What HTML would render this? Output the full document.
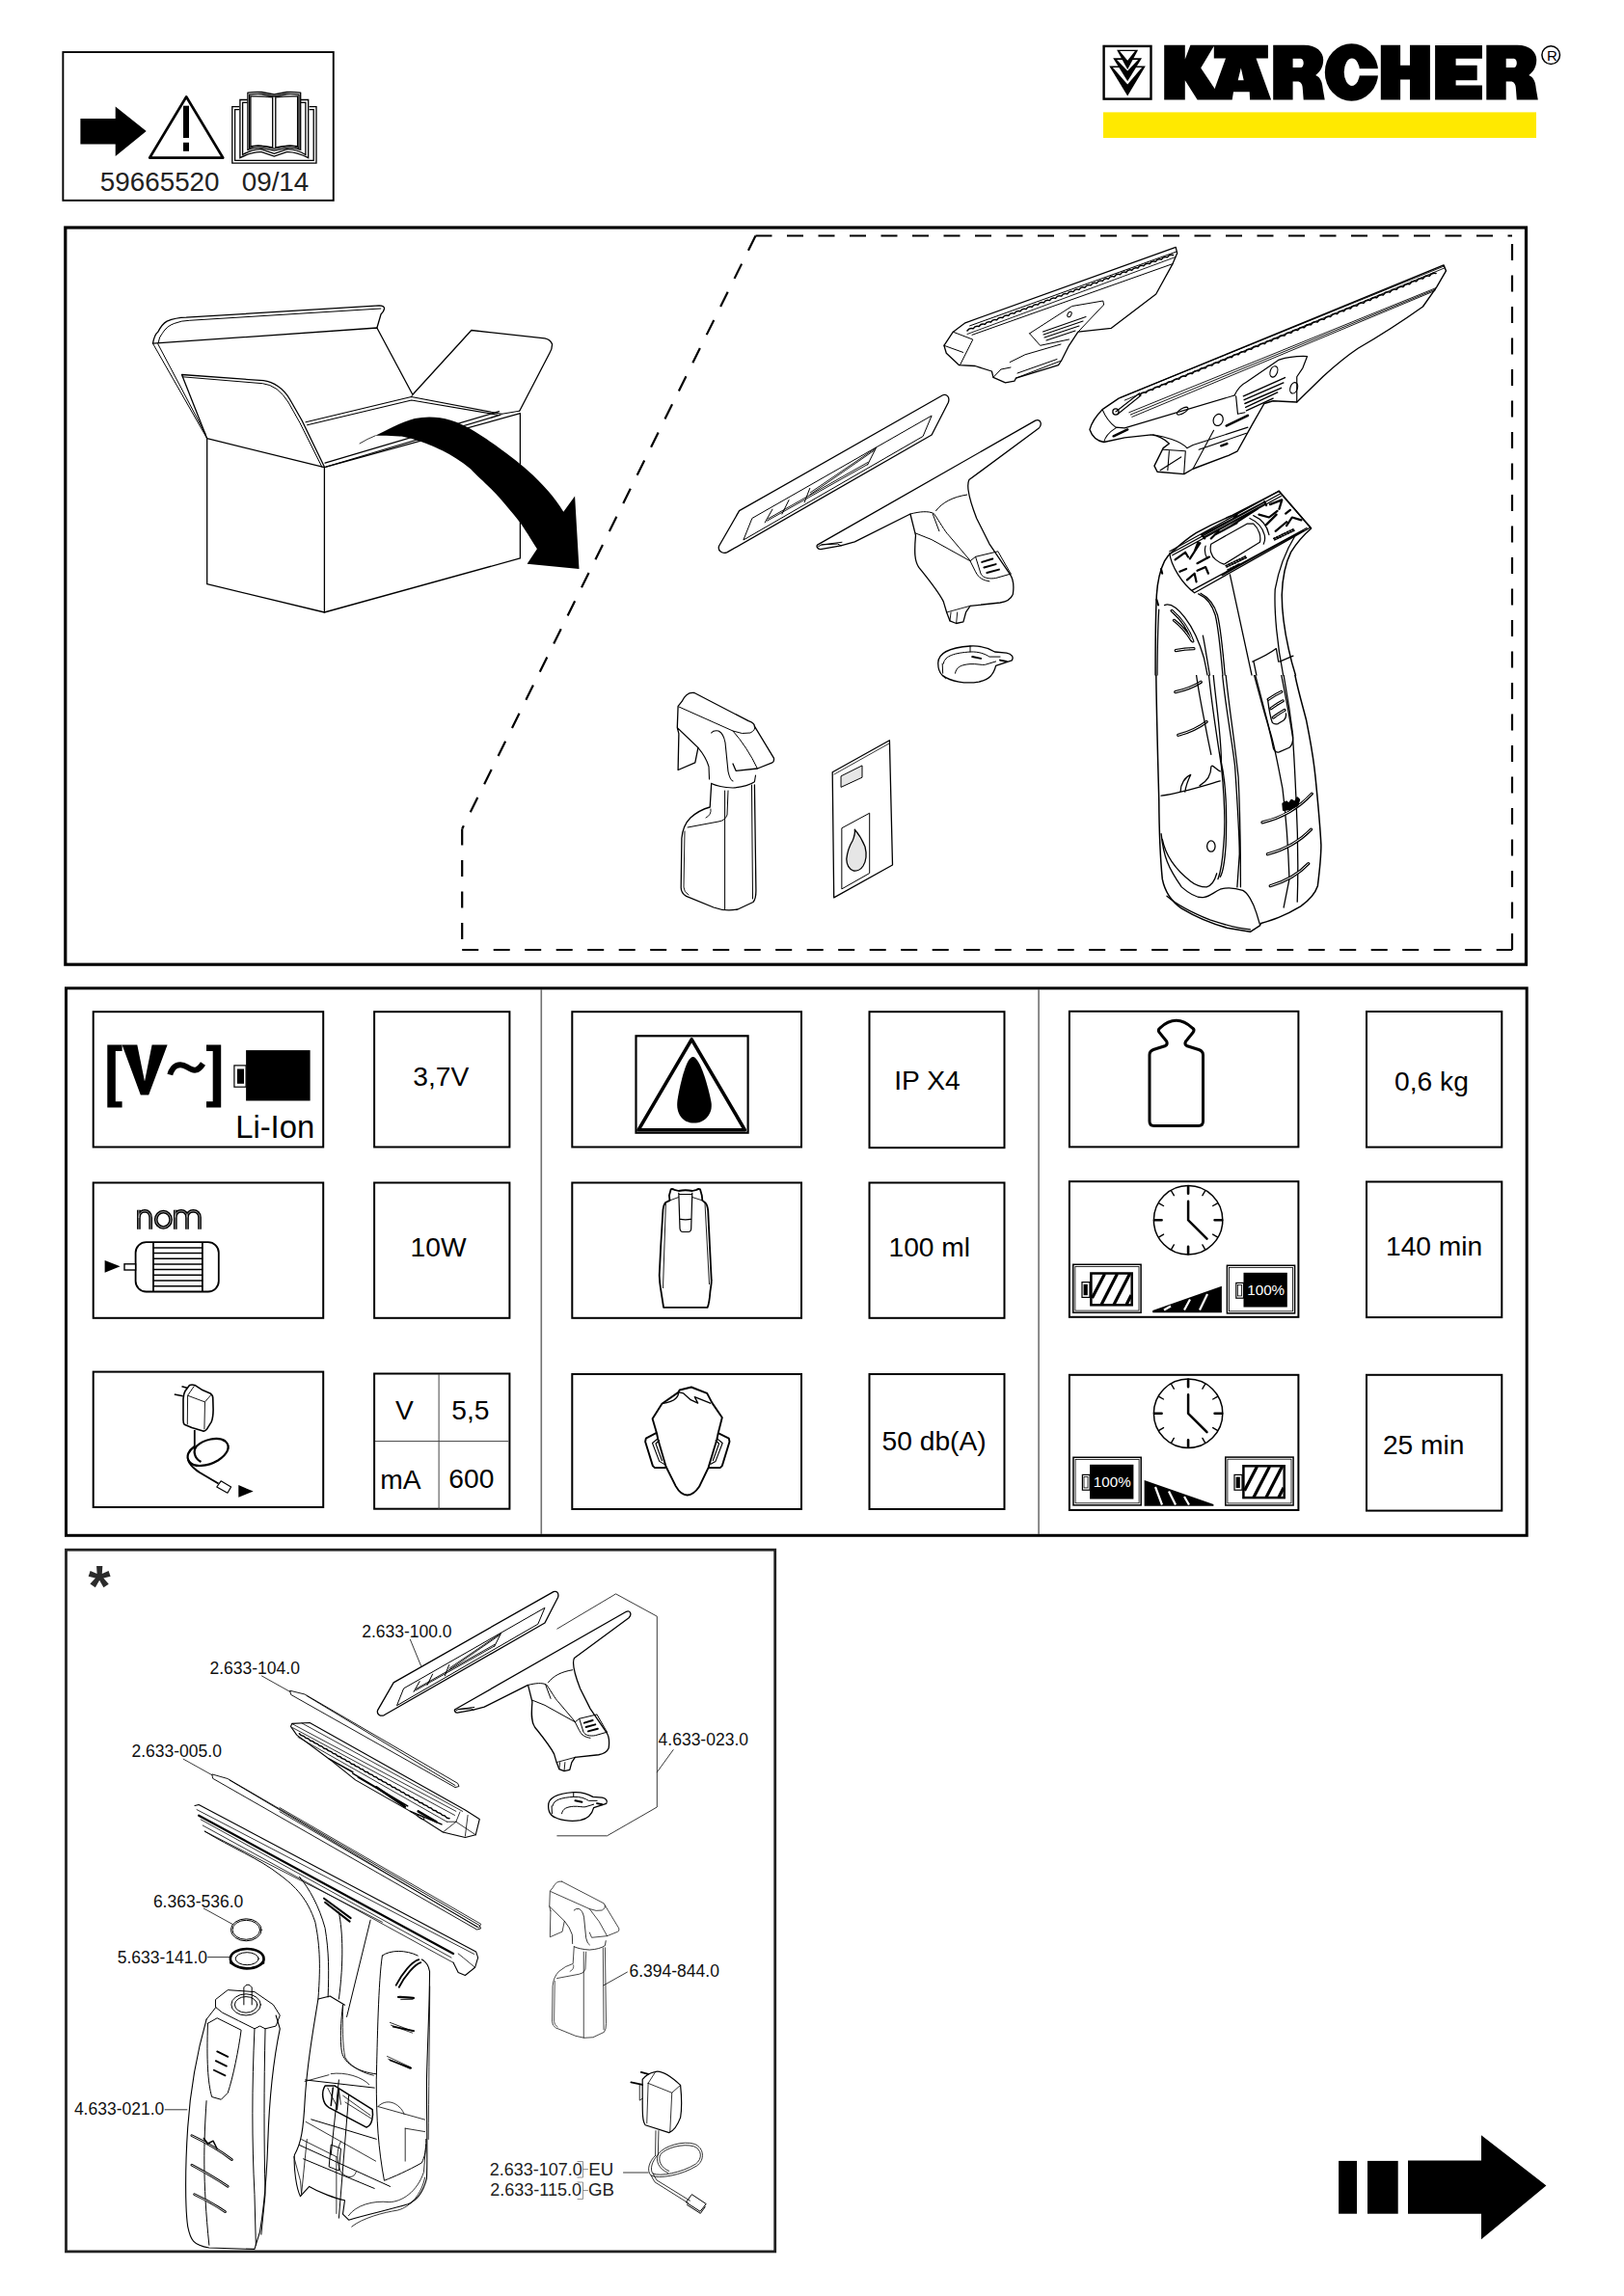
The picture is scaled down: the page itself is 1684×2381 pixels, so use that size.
<!DOCTYPE html>
<html><head><meta charset="utf-8"><title>Kärcher WV</title>
<style>
html,body{margin:0;padding:0;background:#fff;}
body{width:1684px;height:2381px;position:relative;overflow:hidden;font-family:"Liberation Sans",sans-serif;}
svg{position:absolute;left:0;top:0;}
text{font-family:"Liberation Sans",sans-serif;}
</style></head>
<body>
<svg width="1684" height="2381" viewBox="0 0 1684 2381">
<!-- HEADER LEFT -->
<g id="hdr">
<rect x="65.35" y="54.05" width="280.4" height="153.8" fill="none" stroke="#000" stroke-width="1.9"/>
<polygon points="83.4,123 119.7,123 119.7,110.6 151.7,136 119.7,162 119.7,149.4 83.4,149.4" fill="#000"/>
<polygon points="193.2,100.4 231.2,163.6 155.2,163.6" fill="none" stroke="#000" stroke-width="2.8" stroke-linejoin="round"/>
<rect x="190" y="109.7" width="6" height="33.3" fill="#000"/>
<rect x="190" y="147.8" width="6" height="9" fill="#000"/>
<g fill="none" stroke="#000" stroke-width="1.3">
<path d="M248.2,110.6 H240.8 V169.1 H328.0 V110.6 H320.6"/>
<path d="M248.2,113.7 H243.6 V166.4 H325.2 V113.7 H320.6"/>
<path d="M256.6,103.5 H248.9 V163.6 Q262,157 271.3,157.7 L284.3,162 L297.2,157.7 Q306,157 319.7,163.6 V103.5 H312"/>
<path d="M256.6,106.3 H251.6 V160.5 Q262,154.5 271.3,155 L284.3,159.3 L297.2,155 Q307,154.5 316.9,160.5 V106.3 H312"/>
<path d="M256.9,155.3 V96.2 Q264,95 271.3,95.5 L284.3,98 L297.2,95.5 Q304,95 311.7,96.2 V155.3 Q304,152.5 297.2,153.4 L284.3,156.2 L271.3,153.4 Q264,152.5 256.9,155.3Z"/>
<path d="M258.6,153.3 V98.2 Q264,97 271.3,97.5 L284.3,100 L297.2,97.5 Q304,97 310,98.2 V153.3 Q304,150.5 297.2,151.4 L284.3,154.2 L271.3,151.4 Q264,150.5 258.6,153.3Z"/>
<path d="M259.9,99.9 Q272,99.5 282.7,100.8 V152.8 Q272,150.5 259.9,151.6Z"/>
<path d="M285.8,100.8 Q297,99.5 308.6,99.9 V151.6 Q297,150.5 285.8,152.8Z"/>
</g>
<text x="165.7" y="198.4" font-size="27.8" text-anchor="middle" fill="#222">59665520</text>
<text x="285.5" y="198.4" font-size="27.8" text-anchor="middle" fill="#222">09/14</text>
</g>

<!-- LOGO -->
<g id="logo">
<rect x="1144.6" y="47.9" width="48.9" height="54.7" fill="none" stroke="#000" stroke-width="2.4"/>
<polygon points="1150.3,68.4 1187.8,68.4 1169.2,99.4" fill="#000"/><polygon points="1153.9,69.9 1184.1,69.9 1169.2,87.6" fill="#fff"/>
<polygon points="1154.2,60.3 1184,60.3 1169.2,84.3" fill="#000"/><polygon points="1158.1,62.1 1180.1,62.1 1169.2,73.6" fill="#fff"/>
<polygon points="1158.1,51.8 1180.1,51.8 1169.2,72.1" fill="#000"/><polygon points="1161.1,53.1 1176.9,53.1 1169.2,62.8" fill="#fff"/>
<path fill="#000" fill-rule="evenodd" d="M1207.2,46.8 H1320.1 V103.6 H1207.2 Z M1228.8,46.8 L1234.4,46.8 L1228.8,61.6 Z M1245.2,70.4 L1258.8,47.8 L1258.8,60.4 L1271,60.4 L1259.6,92 Z M1228.8,103.6 L1228.8,83.2 L1241.6,103.6 Z M1277.7,103.6 L1279,95.2 L1295.7,95.2 L1296.1,103.6 Z M1286.8,70.4 L1283.7,83.2 L1289.7,83.2 Z M1314.9,46.8 L1320.1,46.8 L1320.1,103.6 L1318.1,103.6 L1302.5,60.4 L1314.9,60.4 Z"/>
<path fill="#000" fill-rule="evenodd" d="M1320.2,46.8 H1352.2 C1365.2,46.8 1372.2,54 1372.2,62 C1372.2,70 1368.2,75 1364.2,78 C1369.2,80 1371.2,85 1371.7,92 L1373.7,103.6 H1351.7 L1350.8,92 C1350.7,87 1348.7,84.5 1345.2,84.5 H1340.6000000000001 V103.6 H1320.2 Z M1340.6000000000001,60.8 H1348.7 C1352.7,60.8 1352.7,70.1 1348.7,70.1 H1340.6000000000001 Z"/>
<ellipse cx="1401.5" cy="75" rx="27.7" ry="29.8" fill="#000"/>
<ellipse cx="1401.9" cy="74.8" rx="8.2" ry="14.2" fill="#fff"/>
<rect x="1402" y="71.2" width="29" height="7.2" fill="#fff"/>
<path fill="#000" d="M1431.8,46.8 H1452.1 V67.7 H1462 V46.8 H1482.9 V103.4 H1462 V82.5 H1452.1 V103.4 H1431.8 Z"/>
<path fill="#000" d="M1488.1,47 H1536.9 V60.7 H1509.6 V67.7 H1531.7 V83.2 H1509.6 V88.4 H1536.9 V103.6 H1488.1 Z"/>
<path fill="#000" fill-rule="evenodd" d="M1541.3,46.8 H1573.3 C1586.3,46.8 1593.3,54 1593.3,62 C1593.3,70 1589.3,75 1585.3,78 C1590.3,80 1592.3,85 1592.8,92 L1594.8,103.6 H1572.8 L1571.8999999999999,92 C1571.8,87 1569.8,84.5 1566.3,84.5 H1561.7 V103.6 H1541.3 Z M1561.7,60.8 H1569.8 C1573.8,60.8 1573.8,70.1 1569.8,70.1 H1561.7 Z"/>
<circle cx="1608.2" cy="57.1" r="9.3" fill="none" stroke="#000" stroke-width="1.5"/>
<text x="1609.4" y="62.8" font-size="15" text-anchor="middle" fill="#000">R</text>
<rect x="1144" y="116.4" width="449" height="26.6" fill="#ffe900"/>
</g>

<!-- BOX 1 -->
<rect x="67.8" y="236" width="1514.7" height="764.2" fill="none" stroke="#000" stroke-width="3.2"/>
<g fill="none" stroke="#000" stroke-width="2.2" stroke-dasharray="17 15.5">
<line x1="783.5" y1="244.5" x2="479.2" y2="859.6"/>
<line x1="479.2" y1="859.6" x2="479.2" y2="985"/>
<line x1="479.2" y1="985" x2="1568" y2="985"/>
<line x1="1568" y1="985" x2="1568" y2="244.5"/>
<line x1="783.5" y1="244.5" x2="1568" y2="244.5"/>
</g>
<g id="box1art" fill="none" stroke="#000" stroke-width="1.3" stroke-linejoin="round" stroke-linecap="round">
<!-- cardboard box -->
<path d="M214.7,454.7 V605.7 L336.4,635 L539.4,578.9 V428.7"/>
<path d="M336.4,484.7 V635"/>
<path d="M214.7,454.7 L336.3,484.7 L539.4,428.7"/>
<path d="M338.6,484 L519,430.2 M337,480.1 L517.5,426.6"/>
<path d="M158.5,356.2 Q160,347 164,343.9 Q168,336 173.1,333.1 Q182,329.5 193.1,329.2 L393.2,316.9 Q398.6,317.2 398.6,320 Q398,323 395,326 L390.9,340"/>
<path d="M163.9,356.2 Q165,349 168.5,345.4 Q173,338 180.8,335.4 Q188,332.5 196.2,332.3 L394.8,320" stroke-width="1"/>
<path d="M158.5,356.2 L390.9,340 L427.9,409.3 L488.8,342.5 L564.9,350.8 Q571,352 572.6,357 Q572.5,362 570,366 L538.7,426.2"/>
<path d="M158.5,356.2 L214.7,454.7 M163.9,357 L213.1,450.1" stroke-width="1"/>
<path d="M214.7,454.7 L188.5,388.5 L273.2,394.7 Q281,395.5 288.5,400.8 Q296,406 300.9,414.7 L313.2,436.2 L336.3,484"/>
<path d="M189.3,390.8 L272.4,397.7 Q280,398.5 287,403.5 Q294,409 298.9,417 L311,438.5 L334,484.5" stroke-width="1"/>
<path d="M317,437.8 L426.5,411.5 L520.2,429.3 M318.6,440.8 L426.7,415 L516,430.2" stroke-width="1.1"/>
<path d="M426.5,411.5 L427.9,409.3 M520.2,429.3 L538.7,426.2" stroke-width="1"/>
<!-- curved arrow -->
<path d="M389.2,451.8 C400,447 415,438 430,434 C450,430 470,434 488.2,445.1 C510,458 535,477 547.3,488 C560,499 575,515 584.3,530.8 L596.1,514.6 L600.5,589.9 L546.6,584.8 L556.9,569.3 C550,558 545,550 539.9,542.7 C530,530 522,521 517.8,516.1 C505,502 495,494 488.2,486.5 C478,478 468,472 458.7,467.3 C448,462 440,459 433.5,456.9 C425,454 418,452.7 414.3,452.5 C405,451.5 395,451.5 389.2,451.8 Z" fill="#000" stroke="none"/>
<path d="M373,459.9 Q381,455 389.2,451.8" stroke-width="0.8"/>

<!-- small nozzle -->
<path d="M1000.9,334.8 L1219.2,256.3 L1220.7,262.6 L1216,273.6 L1198.7,305 L1152.4,340.3 L1117.9,344.2 L1108.5,358.3 L1100.6,374 L1097.5,378.7 L1053.5,392.1 L1051.9,395.2 L1042.5,396.8 L1030,391.3 L1028.4,385 L1011.1,379.5 L994.6,378.7 L981.3,366.2 L978.9,358.3 L988.3,344.2 Z"/>
<path d="M1005.6,337.9 L1219.9,261 M1008,347.3 L1216,273.6" stroke-width="1"/>
<path d="M1003.0,343.0 Q1005.2,339.4 1009.1,340.8 Q1011.3,337.2 1015.2,338.5 Q1017.4,335.0 1021.3,336.3 Q1023.5,332.7 1027.4,334.0 Q1029.6,330.5 1033.5,331.8 Q1035.7,328.2 1039.6,329.5 Q1041.8,326.0 1045.7,327.3 Q1047.9,323.7 1051.8,325.1 Q1054.0,321.5 1057.9,322.8 Q1060.1,319.3 1064.0,320.6 Q1066.2,317.0 1070.1,318.3 Q1072.3,314.8 1076.2,316.1 Q1078.4,312.5 1082.3,313.9 Q1084.5,310.3 1088.4,311.6 Q1090.6,308.1 1094.5,309.4 Q1096.7,305.8 1100.6,307.1 Q1102.8,303.6 1106.7,304.9 Q1108.9,301.3 1112.8,302.6 Q1115.0,299.1 1118.9,300.4 Q1121.1,296.8 1125.0,298.2 Q1127.2,294.6 1131.1,295.9 Q1133.3,292.4 1137.2,293.7 Q1139.4,290.1 1143.3,291.4 Q1145.5,287.9 1149.4,289.2 Q1151.6,285.6 1155.5,287.0 Q1157.7,283.4 1161.6,284.7 Q1163.8,281.1 1167.7,282.5 Q1169.9,278.9 1173.8,280.2 Q1176.0,276.7 1179.9,278.0 Q1182.1,274.4 1186.0,275.7 Q1188.2,272.2 1192.1,273.5 Q1194.3,269.9 1198.2,271.3 Q1200.4,267.7 1204.3,269.0 Q1206.5,265.5 1210.4,266.8 Q1212.6,263.2 1216.5,264.5" stroke-width="1.5"/><path d="M1003,346.5 L1219,266.5" stroke-width="0.9"/>
<path d="M988.3,344.2 L1008.8,352.1 L995.4,378.7 M978.9,358.3 L998.6,365.4" stroke-width="1"/>
<path d="M1067.6,345.8 L1111.6,317.5 L1143.8,312 L1144.6,316 L1117.9,344.2 M1067.6,345.8 L1078.6,358.3 L1108.5,352" stroke-width="1"/>
<path d="M1081.5,344 L1126,328.5 M1082,347 L1123,333 M1083,350 L1119,338 M1085,353 L1115,343" stroke-width="1.1"/>
<path d="M1047.2,375.6 L1062.9,367.8 L1100,357 M1053.5,392.1 L1100.6,374 M1055,387 L1096,372.5 M1030,391.3 L1038,383 L1048,381" stroke-width="1"/>
<ellipse cx="1109" cy="326" rx="1.8" ry="3" transform="rotate(30 1109 326)" stroke-width="1"/>

<!-- large nozzle -->
<g transform="translate(1120,360) scale(0.15394)">
<path vector-effect="non-scaling-stroke" stroke-width="1.4" d="M65,555 C80,500 110,460 150,420 L260,345 L2449,-553 L2465,-514 L2402,-405 L2309,-273 C2150,-160 1990,-60 1872,8 C1780,70 1700,140 1638,196 L1460,370 L1300,362 L1240,380 L1160,520 L1060,700 L1000,730 L760,820 L700,855 L520,840 L500,800 L560,680 L600,650 C560,610 520,595 480,590 L300,610 L160,640 C110,630 80,600 65,555 Z"/>
<path vector-effect="non-scaling-stroke" stroke-width="0.9" d="M270,340 L2450,-545 M300,358 L2452,-532 M330,440 L2400,-400 M340,455 L2395,-390 M350,470 L2390,-380"/>
<path vector-effect="non-scaling-stroke" stroke-width="1.5" d="M400.0,325.0 Q415.3,299.2 444.4,306.7 Q459.7,280.9 488.8,288.4 Q504.1,262.7 533.2,270.2 Q548.5,244.4 577.5,251.9 Q592.9,226.1 621.9,233.6 Q637.3,207.8 666.3,215.3 Q681.6,189.6 710.7,197.1 Q726.0,171.3 755.1,178.8 Q770.4,153.0 799.5,160.5 Q814.8,134.7 843.8,142.2 Q859.2,116.5 888.2,124.0 Q903.6,98.2 932.6,105.7 Q948.0,79.9 977.0,87.4 Q992.3,61.6 1021.4,69.1 Q1036.7,43.4 1065.8,50.9 Q1081.1,25.1 1110.2,32.6 Q1125.5,6.8 1154.5,14.3 Q1169.9,-11.5 1198.9,-4.0 Q1214.3,-29.8 1243.3,-22.2 Q1258.6,-48.0 1287.7,-40.5 Q1303.0,-66.3 1332.1,-58.8 Q1347.4,-84.6 1376.5,-77.1 Q1391.8,-102.9 1420.8,-95.3 Q1436.2,-121.1 1465.2,-113.6 Q1480.6,-139.4 1509.6,-131.9 Q1525.0,-157.7 1554.0,-150.2 Q1569.3,-176.0 1598.4,-168.5 Q1613.7,-194.2 1642.8,-186.7 Q1658.1,-212.5 1687.2,-205.0 Q1702.5,-230.8 1731.5,-223.3 Q1746.9,-249.1 1775.9,-241.6 Q1791.3,-267.3 1820.3,-259.8 Q1835.6,-285.6 1864.7,-278.1 Q1880.0,-303.9 1909.1,-296.4 Q1924.4,-322.2 1953.5,-314.7 Q1968.8,-340.4 1997.8,-332.9 Q2013.2,-358.7 2042.2,-351.2 Q2057.6,-377.0 2086.6,-369.5 Q2102.0,-395.3 2131.0,-387.8 Q2146.3,-413.5 2175.4,-406.0 Q2190.7,-431.8 2219.8,-424.3 Q2235.1,-450.1 2264.2,-442.6 Q2279.5,-468.4 2308.5,-460.9 Q2323.9,-486.6 2352.9,-479.1 Q2368.3,-504.9 2397.3,-497.4"/>
<path vector-effect="non-scaling-stroke" stroke-width="1.1" d="M300,545 L1040,325 M150,420 C170,470 200,510 240,540 L300,545 M160,640 C170,600 200,570 240,545 M240,435 L400,310 M255,450 L410,325 M490,590 C560,600 680,630 720,680 L760,660 L1130,540 M800,690 L1120,580 M900,560 L760,820 M560,690 L710,700 L700,850 M540,830 L680,740 M600,700 L590,830"/>
<circle vector-effect="non-scaling-stroke" cx="240" cy="435" r="20" stroke-width="1.3"/>
<path vector-effect="non-scaling-stroke" stroke-width="2.4" d="M225,600 L320,555 M985,530 L1130,460 M950,665 L990,650"/>
<ellipse vector-effect="non-scaling-stroke" cx="690" cy="430" rx="42" ry="16" transform="rotate(-30 690 430)" stroke-width="1.2"/>
<ellipse vector-effect="non-scaling-stroke" cx="930" cy="490" rx="32" ry="40" transform="rotate(20 930 490)" stroke-width="1.2"/>
<path vector-effect="non-scaling-stroke" stroke-width="1.2" d="M1040,325 C1060,280 1090,250 1120,235 L1340,85 C1420,60 1480,60 1530,62 L1500,140 L1460,200 M1050,330 L1062,450 L1110,440 M1460,200 L1460,370"/>
<ellipse vector-effect="non-scaling-stroke" cx="1305" cy="165" rx="24" ry="38" transform="rotate(20 1305 165)" stroke-width="1.2"/>
<ellipse vector-effect="non-scaling-stroke" cx="1440" cy="275" rx="24" ry="38" transform="rotate(20 1440 275)" stroke-width="1.2"/>
<path vector-effect="non-scaling-stroke" stroke-width="1.4" d="M1100,330 L1380,205 M1105,355 L1370,240 M1110,380 L1355,275 M1115,405 L1330,305 M1120,428 L1300,345"/>
</g>

<!-- microfibre cover --><g id="mf"><g transform="translate(740,400) scale(0.22168)">
<path vector-effect="non-scaling-stroke" stroke-width="1.3" d="M25,750 C18,772 40,788 62,780 L1020,230 L1098,78 C1106,52 1090,38 1072,44 L120,585 Z"/>
<path vector-effect="non-scaling-stroke" stroke-width="1" d="M140,720 L180,620 L1020,140 L980,235 Z"/>
<path vector-effect="non-scaling-stroke" stroke-width="1" d="M240,640 L275,578 M320,600 L352,535 M425,545 L450,480 M720,370 L760,290"/>
<path vector-effect="non-scaling-stroke" stroke-width="0.9" d="M250,632 L720,368 M255,622 L722,358 M450,510 L755,300 M452,500 L758,292"/>
</g></g><!-- squeegee --><g id="sq"><g transform="translate(740,400) scale(0.22168)">
<path vector-effect="non-scaling-stroke" stroke-width="1.3" d="M485,745 L1505,163 C1528,152 1540,180 1520,200 L1195,440 C1180,470 1195,530 1230,620 L1290,740 L1385,880 C1400,900 1405,940 1400,975 C1390,1000 1370,1010 1340,1015 L1200,1030 L1180,1060 L1168,1105 L1135,1112 L1105,1100 L1090,1060 L1075,1010 C1050,960 1000,900 960,850 C940,820 938,780 945,700 L920,600 L660,730 L595,748 L500,765 C485,765 480,752 485,745 Z"/>
<path vector-effect="non-scaling-stroke" stroke-width="1" d="M490,752 L505,744 L580,740 L595,748 M505,744 L600,732"/>
<path vector-effect="non-scaling-stroke" stroke-width="1" d="M920,600 C965,588 1005,585 1030,598 C1060,640 1080,680 1100,700 L1200,818 M1040,585 C1070,545 1120,520 1185,510 M1025,600 L1055,680"/>
<path vector-effect="non-scaling-stroke" stroke-width="1" d="M945,690 L1020,720 L1200,820 L1225,800 L1330,775 L1390,880 M1225,800 L1250,880 C1260,900 1290,905 1320,900 L1390,880 M1200,820 L1225,870 C1240,900 1260,910 1290,915"/>
<path vector-effect="non-scaling-stroke" stroke-width="2" d="M1255,825 L1305,810 M1265,850 L1320,835 M1278,875 L1335,860"/>
<path vector-effect="non-scaling-stroke" stroke-width="0.9" d="M1090,1060 L1200,1030 M1105,1100 L1110,1060 M1135,1112 L1140,1060"/>
</g></g><!-- ring --><g id="ring"><g transform="translate(740,400) scale(0.22168)">
<path vector-effect="non-scaling-stroke" stroke-width="1.3" d="M1050,1300 C1048,1250 1100,1225 1200,1218 C1250,1215 1290,1230 1315,1245 L1370,1250 C1395,1255 1405,1270 1395,1285 L1320,1310 C1310,1350 1290,1375 1240,1385 C1180,1395 1110,1385 1070,1355 C1055,1340 1050,1320 1050,1300 Z"/>
<path vector-effect="non-scaling-stroke" stroke-width="1" d="M1075,1300 C1080,1262 1130,1250 1200,1245 C1240,1243 1270,1255 1290,1268 L1340,1268 M1130,1345 C1135,1315 1160,1305 1200,1302 C1230,1300 1255,1308 1270,1305 L1320,1290 M1070,1355 L1085,1370 M1200,1218 L1200,1245 M1070,1300 L1072,1345"/>
<path vector-effect="non-scaling-stroke" stroke-width="2" d="M1210,1268 L1250,1276 M1340,1284 L1370,1290"/>
</g></g><!-- spray bottle --><g id="spray">
<path d="M720,718.5 L776.2,747.7 Q782.4,750 782.4,753.1 L802.4,786.2 Q803,790 800.8,790.8 L785.4,797 L763.1,799.3 L760,792 M720,718.5 Q712,717 706.9,727.7 L703.1,732.3 L702.3,754.6 L723.9,775.4 L720.8,790.8 L703.1,798.5 L703.9,760.8 M702.3,754.6 L703.9,760.8"/>
<path d="M704,733 L760,758 Q770,762 778,760 Q784,757 782.4,753.1 M760,758 Q775,775 785.4,797" stroke-width="1"/>
<path d="M723.9,775.4 Q732,785 735,795 L735.5,808 M737.6,760 Q740,757 745,758 Q750,760 752,770 L755,800 Q757,809 760,810" stroke-width="1.1"/>
<path d="M737.7,812.4 Q745,816 760,817 Q775,816 782.4,810.8 L783.5,804" stroke-width="1.1"/>
<path d="M737.7,812.4 L736.2,837 Q725,840 716,848 Q708,856 706.9,869.3 L706.2,920.1 Q706,926 711.6,929.4 L740,941 Q752,945.5 765,943 L781,935.5 Q784,932 783.9,923.2 L782.4,813.9"/>
<path d="M755,820 L754,845 Q752,851 745,852 L713.1,858 M751.6,820 L751.6,943.5 M779.5,814 L780.5,932" stroke-width="1"/>
<path d="M732,848 Q738,845 737,839 M710,862 L709,920 Q709,925 714,928" stroke-width="0.9"/>
</g><!-- leaflet -->
<path d="M863.2,800.8 L922.4,767.7 L925.5,897 L864.7,930.9 Z"/>
<path d="M865,803 L922,771" stroke-width="0.8"/>
<path d="M872.4,804.7 L894,793.9 L894,806.2 L872.4,816.2 Z" fill="#e6e6e6" stroke-width="1"/>
<path d="M873.2,858.6 L901.7,843.2 L901.7,905.5 L873.2,921.7 Z" stroke-width="1"/>
<path d="M886.3,860.1 Q893,868 897,878 Q900,890 895,898 Q891,904 885,903 Q878,900 877.8,890.9 Q879,880 884,872 Q887,865 886.3,860.1 Z" fill="#e6e6e6" stroke-width="1.3"/>

<!-- main unit -->
<clipPath id="cpA"><rect x="1100" y="400" width="400" height="300.5"/></clipPath><clipPath id="cpB"><rect x="1100" y="700" width="400" height="300"/></clipPath>
<g clip-path="url(#cpA)"><g transform="translate(1190,500) scale(0.117)" stroke-width="1.3">
<path vector-effect="non-scaling-stroke" stroke-width="1.5" d="M70,1880 C68,1500 72,1150 80,1000 C88,880 110,780 150,700 C170,665 190,640 210,625 C280,560 350,500 430,450 C520,400 620,350 750,295 L1165,80 L1450,410 C1380,470 1320,540 1270,620 C1220,720 1195,840 1190,1000 C1190,1150 1210,1300 1250,1480 C1280,1620 1320,1750 1370,1880"/>



<path vector-effect="non-scaling-stroke" d="M450,990 C520,1020 570,1080 600,1180 C630,1300 650,1500 680,1880 M470,985 C540,1020 590,1080 620,1180 C650,1300 670,1500 700,1880"/>
<path vector-effect="non-scaling-stroke" d="M730,820 L960,1880"/>
<path vector-effect="non-scaling-stroke" d="M1310,470 C1230,600 1160,780 1130,950 C1120,1150 1150,1450 1200,1700 L1230,1880"/>
<path vector-effect="non-scaling-stroke" d="M150,1090 C200,1070 260,1110 330,1200 C400,1290 460,1420 500,1560 C520,1650 540,1760 560,1880 M100,1130 C90,1300 85,1600 85,1880 M490,1360 C510,1450 530,1600 580,1880"/>
<path vector-effect="non-scaling-stroke" stroke-width="3.2" stroke-linecap="round" d="M215,1140 C260,1180 350,1260 400,1410 M235,1225 C280,1260 340,1320 390,1400 M250,1492 C300,1482 360,1476 410,1476 M250,1840 C330,1812 400,1790 470,1765"/><path vector-effect="non-scaling-stroke" stroke-width="1" stroke="#fff" d="M215,1140 C260,1180 350,1260 400,1410 M235,1225 C280,1260 340,1320 390,1400 M250,1492 C300,1482 360,1476 410,1476 M250,1840 C330,1812 400,1790 470,1765"/><path vector-effect="non-scaling-stroke" stroke-width="2" d="M120,770 L130,810 M80,1040 L95,1090"/>
<path vector-effect="non-scaling-stroke" d="M930,1590 C1000,1560 1080,1520 1140,1475 L1160,1590 M600,1880 C700,1830 820,1780 940,1730 M1170,1590 L1290,1540 M940,1590 L1000,1880"/>
</g></g>
<g transform="translate(1210,505) scale(0.09545)">
<path vector-effect="non-scaling-stroke" stroke-width="1.2" d="M30,700 L1215,45 M40,722 L1228,75 M60,742 L1240,100 M380,520 L1060,160 M400,545 L1070,182"/>
<path vector-effect="non-scaling-stroke" stroke-width="1.3" d="M1215,45 L1560,440 L300,1150 M30,720 C35,790 60,850 120,950 C170,1030 230,1100 300,1150 M1520,445 L270,1125 M1480,470 L600,960"/>
<path vector-effect="non-scaling-stroke" stroke-width="1.2" d="M480,620 C462,680 480,750 530,790 C560,815 590,830 620,840 L1010,600 C1025,540 1005,460 940,400 L870,400 L480,620 M900,340 C990,380 1040,440 1060,520 C1070,560 1065,590 1050,620 M940,310 C1030,350 1090,420 1110,520 M420,640 C405,690 415,740 440,780"/>
<path vector-effect="non-scaling-stroke" stroke-width="2.2" d="M90,790 L200,710 L230,760 M250,780 L360,610 M300,700 L340,600 M140,920 L210,890 M220,1010 L300,940 L320,1030 M330,830 L460,760 M330,910 L420,870 L450,940 M480,560 L560,480 M520,520 L760,390 M700,420 L980,240 M1000,300 L1110,330 L1200,260 M1080,410 L1190,300 M1120,190 L1250,140 L1220,240 M1290,290 L1340,250 M1180,480 L1300,380 M1300,420 L1360,330 L1460,360 M760,300 L730,330 M380,520 L410,560 M1060,160 L1080,200"/>
<path vector-effect="non-scaling-stroke" stroke-width="1.6" stroke-dasharray="1.5 1.5" d="M640,855 L860,750 M650,870 L870,765 M1160,560 L1380,455 M1170,575 L1390,470 M660,900 L800,830"/>
</g>
<g clip-path="url(#cpB)"><g transform="translate(1190,700) scale(0.11758)" stroke-width="1.3">
<path vector-effect="non-scaling-stroke" stroke-width="1.5" d="M75,0 C80,400 92,800 100,1100 C102,1400 105,1550 130,1800 C150,1900 200,1990 300,2060 C400,2120 550,2190 700,2230 L905,2265 L990,2210 L1000,2190 C1100,2160 1200,2130 1350,2040 C1420,1990 1480,1920 1500,1860 C1520,1700 1530,1600 1530,1500 C1520,1300 1510,1200 1480,900 C1460,700 1440,600 1400,400 C1370,280 1330,150 1300,0"/>
<path vector-effect="non-scaling-stroke" d="M120,1400 C140,1600 180,1700 300,1870 C380,1940 450,1970 500,1960 C540,1955 580,1920 640,1890 C700,1870 780,1880 840,1900 C880,1920 930,2000 960,2100 L990,2200"/>
<path vector-effect="non-scaling-stroke" d="M130,1450 C160,1600 250,1720 380,1820 C430,1860 480,1870 520,1870 C560,1860 590,1820 610,1750"/>
<path vector-effect="non-scaling-stroke" d="M170,1950 C250,2020 400,2100 550,2160 C700,2210 850,2240 905,2245"/>
<path vector-effect="non-scaling-stroke" d="M540,0 C570,300 620,600 650,800 C680,1100 690,1300 670,1500 C660,1650 640,1750 620,1800 M580,0 C610,300 650,550 650,770 C700,1000 700,1250 690,1500 C680,1650 660,1750 640,1780 M660,0 C690,300 740,550 770,800 C790,1100 810,1400 810,1580 L790,1870 M690,0 C720,300 770,600 800,900 C815,1200 820,1500 820,1870"/>
<path vector-effect="non-scaling-stroke" d="M950,0 C990,150 1040,350 1080,500 C1120,620 1150,800 1190,1000 C1215,1200 1240,1500 1250,1800 L1200,2050 M1180,0 C1210,150 1250,350 1280,550 C1295,750 1300,900 1310,1100 C1320,1300 1330,1700 1320,2000"/>
<path vector-effect="non-scaling-stroke" d="M940,0 C980,150 1020,300 1050,400 C1080,500 1100,600 1110,650 Q1130,690 1160,680 L1250,640 Q1290,610 1280,520 L1250,300 L1200,0 M1060,220 C1070,300 1085,380 1100,420 Q1120,440 1150,430 L1200,400 Q1225,380 1220,340"/>
<path vector-effect="non-scaling-stroke" stroke-width="3.2" stroke-linecap="round" d="M1065,215 Q1130,170 1180,148 M1088,295 Q1150,250 1192,228 M1108,375 Q1170,330 1208,310 M245,150 Q380,120 470,62 M270,530 Q420,490 520,412 M1012,1300 Q1270,1240 1448,1048 M1058,1580 Q1290,1520 1442,1362 M1082,1860 Q1290,1800 1418,1664"/><path vector-effect="non-scaling-stroke" stroke-width="1" stroke="#fff" d="M1065,215 Q1130,170 1180,148 M1088,295 Q1150,250 1192,228 M1108,375 Q1170,330 1208,310 M245,150 Q380,120 470,62 M270,530 Q420,490 520,412 M1012,1300 Q1270,1240 1448,1048 M1058,1580 Q1290,1520 1442,1362 M1082,1860 Q1290,1800 1418,1664"/>
<path vector-effect="non-scaling-stroke" stroke-width="2.4" fill="#000" d="M1200,1190 L1195,1135 L1225,1120 L1245,1140 L1270,1105 L1300,1125 L1320,1085 L1335,1100 L1320,1150 L1260,1180 Z"/>
<ellipse vector-effect="non-scaling-stroke" cx="560" cy="1510" rx="36" ry="48"/>
<path vector-effect="non-scaling-stroke" d="M120,1065 C300,1040 450,990 640,935 M290,1030 C290,960 330,900 380,880 M330,1030 C340,960 360,920 380,880 M460,975 C520,940 560,880 560,810 C570,780 600,830 640,850 M430,0 C450,150 480,300 510,450 C530,560 550,650 560,700"/>
</g></g></g>

<!-- BOX 2 -->
<rect x="68.5" y="1024.8" width="1514.7" height="567.5" fill="none" stroke="#000" stroke-width="3"/>
<line x1="561.3" y1="1026" x2="561.3" y2="1591" stroke="#707070" stroke-width="1.6"/>
<line x1="1077.1" y1="1026" x2="1077.1" y2="1591" stroke="#707070" stroke-width="1.6"/>
<g fill="none" stroke="#000" stroke-width="2">
<rect x="96.7" y="1049.2" width="238.5" height="140.3"/>
<rect x="388.1" y="1049.2" width="140.3" height="140.3"/>
<rect x="593.3" y="1049.2" width="237.7" height="140.3"/>
<rect x="901.5" y="1049.2" width="140" height="141"/>
<rect x="1108.9" y="1048.8" width="237.5" height="140.6"/>
<rect x="1417" y="1049" width="140.3" height="140.6"/>

<rect x="96.7" y="1226.5" width="238.5" height="140.3"/>
<rect x="388.1" y="1226.5" width="140.3" height="140.3"/>
<rect x="593.3" y="1226.5" width="237.7" height="140.3"/>
<rect x="901.5" y="1226.5" width="140" height="140.3"/>
<rect x="1108.9" y="1225.2" width="237.5" height="140.6"/>
<rect x="1417" y="1225.5" width="140.3" height="140.6"/>

<rect x="96.7" y="1422.6" width="238.5" height="140.4"/>
<rect x="388.1" y="1424.5" width="140.3" height="140.2"/>
<rect x="593.3" y="1425" width="237.7" height="140"/>
<rect x="901.5" y="1425" width="140" height="140"/>
<rect x="1108.9" y="1425.8" width="237.5" height="140.2"/>
<rect x="1417" y="1425.8" width="140.3" height="140.8"/>
</g>
<line x1="455.1" y1="1425" x2="455.1" y2="1565" stroke="#444" stroke-width="1"/>
<line x1="389" y1="1494.6" x2="527.5" y2="1494.6" stroke="#444" stroke-width="1"/>
<g font-size="28.2" text-anchor="middle" fill="#000">
<text x="457.3" y="1125.7">3,7V</text>
<text x="961.5" y="1129.7">IP X4</text>
<text x="1484.5" y="1131">0,6 kg</text>
<text x="454.6" y="1303.1">10W</text>
<text x="963.8" y="1303.4">100 ml</text>
<text x="1487.1" y="1302.1">140 min</text>
<text x="419.5" y="1472.2">V</text>
<text x="487.8" y="1472">5,5</text>
<text x="415.4" y="1544.2">mA</text>
<text x="488.8" y="1542.6">600</text>
<text x="968.6" y="1503.5">50 db(A)</text>
<text x="1476.2" y="1508">25 min</text>
</g>
<g id="box2icons">
<!-- [V~] battery -->
<path d="M111.3,1083.5 H126.6 V1089.9 H119.8 V1142.2 H126.6 V1148.6 H111.3 Z" fill="#000"/>
<path d="M214,1083.5 H229.2 V1148.6 H214 V1142.2 H220.7 V1089.9 H214 Z" fill="#000"/>
<polygon points="126.6,1083.5 142.3,1083.5 150,1121.5 157.6,1083.5 173.6,1083.5 154.2,1135.4 145.8,1135.4" fill="#000"/>
<path d="M176.3,1114.5 C179,1105 186,1101.5 194,1106.5 C201,1111 205,1111.5 210.5,1103" fill="none" stroke="#000" stroke-width="6"/>
<rect x="255.1" y="1089.1" width="66.5" height="52.4" fill="#000"/>
<rect x="242.9" y="1104.9" width="12.2" height="22.3" fill="#fff" stroke="#000" stroke-width="1.2"/>
<rect x="245.9" y="1108.5" width="7.1" height="15.3" fill="#000"/>
<text x="285.2" y="1179.8" font-size="32.8" text-anchor="middle" fill="#000">Li-Ion</text>
<!-- nom motor -->
<g fill="none"><path d="M143.9,1274.8 V1254.8 M143.9,1263 C143.9,1258.2 147,1255.9 150.1,1255.9 C153.6,1255.9 156.2,1258.5 156.2,1263 V1274.8 M181.8,1274.8 V1254.8 M181.8,1262.5 C181.8,1258 184.5,1255.9 187.9,1255.9 C191.5,1255.9 194,1258.3 194,1262.5 V1274.8 M194,1262.5 C194,1258 196.8,1255.9 200.4,1255.9 C204.2,1255.9 207,1258.3 207,1262.5 V1274.8" stroke="#000" stroke-width="3.7"/><ellipse cx="169.4" cy="1264.8" rx="7.7" ry="8.2" stroke="#000" stroke-width="3.7"/>
<path d="M143.9,1274.8 V1254.8 M143.9,1263 C143.9,1258.2 147,1255.9 150.1,1255.9 C153.6,1255.9 156.2,1258.5 156.2,1263 V1274.8 M181.8,1274.8 V1254.8 M181.8,1262.5 C181.8,1258 184.5,1255.9 187.9,1255.9 C191.5,1255.9 194,1258.3 194,1262.5 V1274.8 M194,1262.5 C194,1258 196.8,1255.9 200.4,1255.9 C204.2,1255.9 207,1258.3 207,1262.5 V1274.8" stroke="#fff" stroke-width="0.6"/><ellipse cx="169.4" cy="1264.8" rx="7.7" ry="8.2" stroke="#fff" stroke-width="0.6"/></g>
<rect x="140.6" y="1288.1" width="86.2" height="51.4" rx="11" ry="11" fill="#fff" stroke="#000" stroke-width="1.8"/>
<g stroke="#000" stroke-width="1.5">
<line x1="159" y1="1288.1" x2="159" y2="1339.5" stroke-width="1.8"/>
<line x1="209.9" y1="1288.1" x2="209.9" y2="1339.5" stroke-width="1.8"/>
<line x1="159" y1="1293.9" x2="209.9" y2="1293.9"/>
<line x1="159" y1="1299.6" x2="209.9" y2="1299.6"/>
<line x1="159" y1="1305.3" x2="209.9" y2="1305.3"/>
<line x1="159" y1="1311" x2="209.9" y2="1311"/>
<line x1="159" y1="1316.6" x2="209.9" y2="1316.6"/>
<line x1="159" y1="1322.3" x2="209.9" y2="1322.3"/>
<line x1="159" y1="1328" x2="209.9" y2="1328"/>
<line x1="159" y1="1333.8" x2="209.9" y2="1333.8"/>
</g>
<rect x="129" y="1310.8" width="11.6" height="6.2" fill="#fff" stroke="#000" stroke-width="1.4"/>
<polygon points="108.6,1307.1 124.6,1313.3 108.6,1319.8" fill="#000"/>
<!-- charger -->
<g id="chg" fill="none" stroke="#000" stroke-width="1.3" stroke-linejoin="round">
<path d="M196.5,1436.4 Q199,1435.5 202,1436.4 L210,1441.6 L218.6,1445.3 Q221,1447 220.8,1450.9 L221.1,1462 Q221,1470 219.3,1474.3 L214.3,1482.3 Q212.5,1484.5 210.6,1484.1 L198.9,1480.4 L191.2,1477.3 Q190,1476 190,1472.4 L190,1450.9 Q190.5,1445 192.2,1442.2 Z" stroke-width="1.6"/>
<path d="M194.6,1447.2 L212.5,1453.9 L219.3,1445.9 M212.5,1453.9 L211.9,1482.3 M194.6,1447.2 L194.3,1477.3 M194.6,1447.2 L201.4,1437.3" stroke-width="0.9"/>
<path d="M180.8,1446 L189.7,1447.8 M188.5,1437.8 L194,1439.2" stroke-width="1.6"/>
<path d="M201.8,1483 V1501.4" stroke-width="1.8"/>
<path d="M201.8,1500 C196,1504 192,1510 196.5,1516 C201,1522 215,1521 226,1514.5 C236,1508 240,1500 233.5,1494.5 C226,1489 211,1493 204,1499.5 C200,1504 201,1512 208.5,1516" stroke-width="2.2"/>
<path d="M195,1514 C196.5,1519 201,1523 207,1527 L226.5,1538.5" stroke-width="2"/>
<polygon points="229.1,1535.8 239.6,1542 235.9,1548.2 224.8,1542" stroke-width="1.2"/>
</g>
<polygon points="247.3,1540.1 262.7,1546.6 247.3,1552.8" fill="#000"/>
<!-- IPX4 -->
<rect x="659.5" y="1074.3" width="116.1" height="100.4" fill="none" stroke="#000" stroke-width="2.2"/>
<polygon points="717.2,1077.8 662,1171.8 772.4,1171.8" fill="none" stroke="#000" stroke-width="3.6" stroke-linejoin="round"/>
<path d="M718.5,1096 C712,1096 705.5,1122 702.5,1141 C700.5,1155 708,1164.6 719.5,1164.6 C731,1164.6 739.5,1155 737.5,1143 C735,1129 726,1096 718.5,1096 Z" fill="#000"/>
<!-- bottle -->
<g fill="none" stroke="#000" stroke-linejoin="round">
<path d="M688.1,1355.8 L733.6,1355.8 Q735.5,1352 736.5,1338.8 Q738,1330 737.7,1327.2 L734.2,1255.4 Q733.5,1249.5 731.8,1247.8 L728.3,1244.9 L727.8,1239.7 L726,1233.3 Q724,1232.5 722.5,1233.8 L717.8,1235 Q710.8,1233.5 703.8,1235 L699.2,1233.8 Q697,1232.5 695.7,1233.3 L693.9,1239.7 L694.5,1244.9 L689.8,1247.3 Q688,1250 687.5,1254.3 L685.2,1292.2 L683.7,1322.5 Q684,1330 685,1336 Z" stroke-width="1.8"/>
<path d="M703.8,1236.8 L705,1274 Q705.5,1277.5 708,1277.5 L713.8,1277.5 Q716.5,1277.5 716.7,1274 L717.8,1236.8 M704.5,1264.2 Q710.8,1265.5 717,1264.2 M703.8,1238.5 H717.8" stroke-width="1.2"/>
<path d="M694.5,1244.9 L703.8,1241.5 M717.8,1241.5 L728.3,1244.9 M690.4,1248 L687.5,1336 M731,1248 L735.5,1332" stroke-width="0.9"/>
</g>
<!-- head -->
<g fill="none" stroke="#000" stroke-width="1.9" stroke-linejoin="round">
<path d="M703.4,1443.9 L704.7,1441.5 L716.9,1438.5 L733.2,1444.9 L738.6,1455.1 L748.8,1470 L744.7,1486.2 L743.3,1493 L734.5,1522.1 L725,1541.8 Q719,1550.5 712.8,1550.5 Q706,1550.5 700.7,1541.1 L690.5,1520.8 L682.4,1493 L681,1486.2 L676.6,1471.3 L686.4,1455.7 Z"/>
<path d="M686.4,1455.7 Q697,1454 700.7,1450.3 Q704,1447 703.4,1443.9 M704,1443.9 L708.8,1444.9 L716.2,1451.7 L723.7,1455.1 L720.3,1448.6 L737.2,1455.4" stroke-width="1.3"/>
<path d="M680.3,1486.2 L669.8,1491.7 L669.1,1495 L676.9,1520.1 L679,1522.1 L690.5,1522.1"/>
<path d="M682.6,1491.5 L676.5,1496.5 L683.7,1515.4 L689.1,1518.6 M683.9,1493.5 L680,1497 L686.5,1515" stroke-width="1.1"/>
<path d="M744.7,1486.2 L755.8,1491.7 L756.5,1495 L748.8,1520.1 L746.7,1522.1 L734.5,1522.1"/>
<path d="M743,1491.5 L749.2,1496.5 L742,1515.4 L736.5,1518.6 M741.7,1493.5 L745.6,1497 L739.2,1515" stroke-width="1.1"/>
</g>
<!-- weight -->
<path d="M1196.5,1167.5 H1242.8 Q1247.5,1167.5 1247.5,1162.8 V1094 Q1247.5,1090 1243,1088.5 L1230.5,1084.5 Q1228,1083 1229.5,1080 L1237.2,1070.5 Q1239,1068 1236.8,1066.3 Q1228,1058.3 1219.8,1058.3 Q1211,1058.3 1202.5,1066.3 Q1200.5,1068 1202,1070.5 L1209.8,1080 Q1211,1083 1208.5,1084.5 L1196,1088.5 Q1192,1090 1192,1094 V1162.8 Q1192,1167.5 1196.5,1167.5 Z" fill="none" stroke="#000" stroke-width="3"/>
<!-- clocks -->
<g id="clock1" transform="translate(1232.1,1265.3)">
<circle r="35.7" fill="none" stroke="#000" stroke-width="1.5"/>
<g stroke="#000" stroke-linecap="round">
<path d="M0,-35 V-27.5 M0,35 V27.5 M-35,0 H-27.5 M35,0 H27.5" stroke-width="2.6"/>
<path d="M17.5,-30.3 L14.8,-25.6 M30.3,-17.5 L25.6,-14.8 M30.3,17.5 L25.6,14.8 M17.5,30.3 L14.8,25.6 M-17.5,30.3 L-14.8,25.6 M-30.3,17.5 L-25.6,14.8 M-30.3,-17.5 L-25.6,-14.8 M-17.5,-30.3 L-14.8,-25.6" stroke-width="1.4"/>
<path d="M0,-19.5 V0 L19.4,19.3" fill="none" stroke-width="2.5"/>
</g>
</g>
<use href="#clock1" transform="translate(0,200.5)"/>
<!-- row2 batteries -->
<g id="batStriped">
<rect x="1112.8" y="1311.3" width="70.3" height="49.9" fill="none" stroke="#000" stroke-width="1.5"/>
<rect x="1114.9" y="1313.4" width="66.1" height="45.7" fill="none" stroke="#000" stroke-width="0.8"/>
<rect x="1131.4" y="1320.5" width="42.3" height="32.8" fill="#fff" stroke="#000" stroke-width="2.5"/>
<rect x="1122" y="1329.6" width="8" height="15.8" fill="#fff" stroke="#000" stroke-width="1.2"/>
<rect x="1123.6" y="1331.8" width="4.2" height="11.4" fill="#000"/>
<g stroke="#000" stroke-width="3.2"><line x1="1132.5" y1="1346" x2="1145.5" y2="1321"/><line x1="1142" y1="1353" x2="1158.5" y2="1321"/><line x1="1155" y1="1353" x2="1171.5" y2="1321"/><line x1="1168" y1="1353" x2="1173" y2="1343"/></g>
</g>
<g id="rampUp">
<polygon points="1195.2,1359 1266.9,1333.8 1266.9,1361.2 1195.2,1361.2" fill="#000"/>
<g stroke="#fff" stroke-width="2.2"><line x1="1207" y1="1358.5" x2="1214" y2="1354.5"/><line x1="1228" y1="1358.5" x2="1234" y2="1347.5"/><line x1="1244" y1="1358.5" x2="1252" y2="1342"/></g>
</g>
<g id="batFull">
<rect x="1272.4" y="1312.3" width="70.2" height="49.6" fill="none" stroke="#000" stroke-width="1.5"/>
<rect x="1274.5" y="1314.4" width="66" height="45.4" fill="none" stroke="#000" stroke-width="0.8"/>
<rect x="1289.5" y="1319.8" width="45.3" height="35.7" fill="#000"/>
<rect x="1281.8" y="1330.4" width="7.7" height="15.8" fill="#fff" stroke="#000" stroke-width="1.2"/>
<rect x="1283.4" y="1332.5" width="4" height="11.4" fill="#fff" stroke="#000" stroke-width="0.8"/>
<text x="1312.7" y="1342.7" font-size="15.2" text-anchor="middle" fill="#fff">100%</text>
</g>
<!-- row3 -->
<use href="#batFull" transform="translate(-159.4,199)"/>
<polygon points="1186.6,1535 1258.4,1560 1258.4,1561.8 1186.6,1561.8" fill="#000"/>
<g stroke="#fff" stroke-width="2.2"><line x1="1198" y1="1542" x2="1205" y2="1560.5"/><line x1="1212" y1="1546.5" x2="1219" y2="1560.5"/><line x1="1228" y1="1552" x2="1233" y2="1560.5"/></g>
<use href="#batStriped" transform="translate(158,199.8)"/>
</g>

<!-- BOX 3 -->
<rect x="68.5" y="1607.2" width="735.2" height="727.7" fill="none" stroke="#222" stroke-width="2.8"/>
<text x="103" y="1665.4" font-size="59.5" font-weight="bold" text-anchor="middle" fill="#2b2b2b">*</text>
<g font-size="17.5" text-anchor="middle" fill="#111">
<text x="421.9" y="1697.7">2.633-100.0</text>
<text x="264.2" y="1735.6">2.633-104.0</text>
<text x="183.2" y="1822.3">2.633-005.0</text>
<text x="729.3" y="1809.9">4.633-023.0</text>
<text x="205.6" y="1977.8">6.363-536.0</text>
<text x="168.4" y="2036">5.633-141.0</text>
<text x="123.6" y="2192.5">4.633-021.0</text>
<text x="699.2" y="2050.4">6.394-844.0</text>
<text x="555.7" y="2255.8" fill="#222" font-size="18">2.633-107.0</text>
<text x="555.7" y="2277" fill="#222" font-size="18">2.633-115.0</text>
<text x="610.3" y="2255.8" fill="#222" font-size="18.7" text-anchor="start">EU</text>
<text x="610" y="2277" fill="#222" font-size="18.7" text-anchor="start">GB</text>
</g>
<g id="box3art" fill="none" stroke="#000" stroke-width="1" stroke-linejoin="round" stroke-linecap="round">
<!-- leaders -->
<g stroke="#222" stroke-width="0.9">
<path d="M425.4,1700.3 L436.5,1727.4 M271.5,1738 L301,1754.5 M190.2,1824.2 L219.8,1840.7 M211.3,1979.1 L241.8,1995.8 M215.5,2029.6 L238.5,2029.6 M171.1,2187.8 L193.9,2187.8 M625.8,2058.9 L650.4,2045.1 M646.5,2253 L672.1,2253"/>
<path d="M577.8,1689.1 L638.6,1652.9 L681.3,1676.2 L681.3,1874 L629.5,1903.8 L577.8,1903.8 M681.3,1837.8 L698.1,1814.6"/>
<path d="M599,2241.5 H604.5 V2258 H599 M604.5,2249.5 H609.5 M599,2263 H604.5 V2280.5 H599 M604.5,2271.5 H609.5" stroke="#888"/>
</g>
<!-- reused parts -->
<use href="#mf" transform="translate(-194.4,1328.5) scale(0.786)"/>
<use href="#sq" transform="translate(-194.4,1328.5) scale(0.786)"/>
<use href="#ring" transform="translate(-196,1332) scale(0.786)"/>
<use href="#spray" transform="translate(64.1,1433.8) scale(0.72)"/>
<g transform="translate(480,1920) scale(0.19704)">
<path vector-effect="non-scaling-stroke" stroke-width="1.2" d="M1010,1160 C1040,1150 1080,1170 1145,1230 C1152,1300 1152,1360 1145,1400 C1130,1440 1110,1470 1085,1480 L960,1440 C945,1420 945,1380 945,1300 L945,1200 C960,1180 985,1165 1010,1160 Z"/>
<path vector-effect="non-scaling-stroke" stroke-width="0.8" d="M975,1220 L1100,1270 L1145,1230 M1100,1270 L1090,1475 M975,1220 L968,1430 M975,1220 L1010,1165 M930,1230 L930,1310 L945,1300"/>
<path vector-effect="non-scaling-stroke" stroke-width="1.8" d="M938,1162 L975,1172 M885,1215 L945,1228"/>
<path vector-effect="non-scaling-stroke" stroke-width="0.8" d="M1015,1470 L1013,1600 M1030,1470 L1027,1595 M1013,1600 C980,1630 965,1680 990,1705 C1030,1725 1150,1705 1230,1655 C1275,1625 1270,1560 1220,1540 C1160,1520 1060,1550 1030,1590 C1010,1625 1030,1672 1080,1692 M1027,1595 C995,1628 982,1675 1000,1695 C1035,1712 1150,1692 1225,1645 C1262,1618 1258,1568 1215,1552 C1160,1535 1065,1560 1040,1595 C1025,1622 1040,1665 1085,1682 M990,1705 L1010,1740 L1185,1850 M1000,1695 L1020,1730 L1195,1838"/>
<path vector-effect="non-scaling-stroke" stroke-width="1" d="M1175,1845 L1205,1805 L1280,1855 L1250,1893 Z M1180,1860 L1250,1905 L1275,1870"/>
</g>
<!-- strips -->
<path d="M301,1753.3 L316,1757 L474.7,1849.4 L476,1852.5 L472,1853.6 L302,1757.6 Z M318,1758.5 L472,1851.5" stroke-width="0.9"/>
<path d="M220.2,1840 L236,1844.5 L497.4,1996.8 L498.5,2000 L494.5,2001 L221,1844.5 Z M238,1846 L495,1998.5" stroke-width="0.9"/>
<!-- small nozzle assembly -->
<g transform="translate(290,1770) scale(0.13547)">
<path vector-effect="non-scaling-stroke" stroke-width="1.1" d="M85,150 L95,128 L230,122 L1420,790 L1530,860 L1500,980 L1420,1000 L1250,960 L1000,800 L580,560 L380,400 L130,215 Z"/>
<path vector-effect="non-scaling-stroke" stroke-width="0.8" d="M95,130 L1350,800 M100,160 L1340,830 M140,232 L1280,880 M170,125 L1400,800 M1440,830 L1420,990 M1380,805 L1350,880 L1500,980 M1350,880 L1250,960 M1280,880 L1350,880"/>
<path vector-effect="non-scaling-stroke" stroke-width="1.5" d="M150.0,205.0 Q162.5,223.5 184.8,224.7 Q197.3,243.2 219.6,244.4 Q232.1,262.9 254.5,264.0 Q267.0,282.6 289.3,283.7 Q301.8,302.3 324.1,303.4 Q336.6,322.0 358.9,323.1 Q371.4,341.6 393.8,342.8 Q406.2,361.3 428.6,362.5 Q441.1,381.0 463.4,382.1 Q475.9,400.7 498.2,401.8 Q510.7,420.4 533.0,421.5 Q545.5,440.1 567.9,441.2 Q580.4,459.7 602.7,460.9 Q615.2,479.4 637.5,480.6 Q650.0,499.1 672.3,500.2 Q684.8,518.8 707.2,519.9 Q719.7,538.5 742.0,539.6 Q754.5,558.1 776.8,559.3 Q789.3,577.8 811.6,579.0 Q824.1,597.5 846.5,598.6 Q858.9,617.2 881.3,618.3 Q893.8,636.9 916.1,638.0 Q928.6,656.6 950.9,657.7 Q963.4,676.2 985.7,677.4 Q998.2,695.9 1020.6,697.1 Q1033.1,715.6 1055.4,716.7 Q1067.9,735.3 1090.2,736.4 Q1102.7,755.0 1125.0,756.1 Q1137.5,774.7 1159.9,775.8 Q1172.3,794.3 1194.7,795.5 Q1207.2,814.0 1229.5,815.2 Q1242.0,833.7 1264.3,834.8 Q1276.8,853.4 1299.1,854.5"/>
<path vector-effect="non-scaling-stroke" stroke-width="1.5" d="M560,510 L980,760 M600,540 L960,750 M380,400 L560,500 M1000,800 L1240,900"/>
<path vector-effect="non-scaling-stroke" stroke-width="2.4" d="M740,615 L960,765 M1060,800 L1200,880"/>
<ellipse vector-effect="non-scaling-stroke" cx="1080" cy="845" rx="30" ry="10" transform="rotate(30 1080 845)" stroke-width="0.9"/>
</g>
<!-- big nozzle + body -->
<g transform="translate(290,1850) scale(0.20462)">
<path vector-effect="non-scaling-stroke" stroke-width="1.1" d="M-430,110 L-410,105 L995,850 L1005,880 L990,930 L940,970 L905,955 L880,905"/>
<path vector-effect="non-scaling-stroke" stroke-width="0.8" d="M-420,130 L985,862 M-400,180 L870,880 M-390,210 L860,895 L880,905 M-380,240 L520,700 M905,860 L930,880 L990,930"/>
<path vector-effect="non-scaling-stroke" stroke-width="2.2" d="M-410,160 L880,860"/>
<path vector-effect="non-scaling-stroke" stroke-width="0.8" d="M0,120 L1020,710 L1010,728 L0,140"/>
<path vector-effect="non-scaling-stroke" d="M-380,240 C-250,320 -100,380 0,460 C80,520 140,580 180,700 C200,800 210,900 195,1090 M100,470 C150,530 200,620 230,730 C250,850 250,950 245,1080 M300,650 C320,750 325,900 300,1090 M460,690 L340,1180"/>
<path vector-effect="non-scaling-stroke" stroke-width="2" d="M225,580 L360,680 M230,600 L355,697"/>
<path vector-effect="non-scaling-stroke" stroke-width="1.1" d="M195,1090 L255,1075 L330,1120 M195,1090 C170,1250 140,1400 128,1600 C120,1750 110,1820 75,1880 C70,1950 85,2050 105,2090 L150,2040 C200,2070 280,2100 330,2110 L320,2180 L350,2210 C450,2180 550,2160 650,2130 C700,2110 730,2060 745,2000 C750,1900 745,1700 745,1500 C750,1300 760,1100 760,950 C755,920 740,900 720,890"/>
<path vector-effect="non-scaling-stroke" d="M520,870 C560,840 640,840 700,870 M520,870 C500,1000 495,1300 490,1500 C490,1700 500,1850 530,2010 C580,1990 650,1960 720,1920 C735,1890 742,1860 742,1800"/>
<path vector-effect="non-scaling-stroke" stroke-width="1.8" d="M590,1020 C620,960 670,900 705,890 M605,1030 C635,970 685,915 715,905 M600,1080 L680,1085 M575,1230 L680,1252 M560,1400 L665,1440"/>
<path vector-effect="non-scaling-stroke" d="M320,1120 C310,1200 305,1300 315,1360 C330,1420 400,1460 490,1470 M130,1500 L480,1540 M160,1700 L490,1800 M100,1830 L560,2040 M120,1900 L480,2050 M300,1500 L260,1880 M350,1580 L300,2200"/>
<path vector-effect="non-scaling-stroke" stroke-width="1.5" d="M230,1530 C210,1560 215,1620 250,1640 L440,1740 C470,1730 475,1680 470,1650 L280,1530 Z M270,1540 L260,1630 M300,1550 L290,1650"/>
<path vector-effect="non-scaling-stroke" d="M260,1830 L250,1940 L300,1960 L310,1850 Z"/>
</g>
<g transform="translate(290,2060) scale(0.11321)">
<path vector-effect="non-scaling-stroke" stroke-width="0.8" d="M630,2100 C700,2000 860,1960 1000,1975 C1120,1975 1260,1880 1320,1700 L1340,1450 M660,2200 C760,2120 950,2070 1080,2050 C1200,2020 1300,1900 1330,1750 M1375,0 C1372,500 1365,1000 1362,1400 M580,170 C575,350 575,550 600,650 C640,720 740,790 860,815 M1010,330 L1220,410 M1020,355 L1215,425 M985,640 L1200,740 M995,665 L1195,755 M1100,90 L1225,100 M1110,120 L1220,118"/>
<path vector-effect="non-scaling-stroke" stroke-width="0.8" d="M440,930 L520,1090 M540,930 L560,1080 M580,1000 L830,1180 M600,1060 L840,1210 M240,1240 L880,1600 M200,1400 L520,1560 M230,870 L450,810 M470,800 C600,780 760,830 820,900 M900,1100 C1000,1000 1120,1100 1140,1170 M900,1100 L1330,1220 M1150,1300 L1330,1330 M1150,1300 L1150,1600 M520,1560 L520,2080 M250,1400 L200,1900 M560,1420 C520,1500 520,1600 560,1700 C620,1760 680,1760 700,1700 M130,1560 L190,1780 L200,1900"/>
</g>
<!-- tank -->
<g transform="translate(70,1860) scale(0.27708)">
<path vector-effect="non-scaling-stroke" stroke-width="1.1" d="M520,845 C490,950 460,1100 450,1250 C440,1400 440,1550 450,1620 C460,1670 470,1690 530,1700 L700,1705 L720,1640 C735,1550 745,1450 750,1300 C755,1150 770,1000 795,880 L780,830"/>
<path vector-effect="non-scaling-stroke" d="M555,770 L600,735 L700,742 L770,790 L795,830 L780,870 L740,880 L720,870 L700,880 L640,850 L580,820 L555,800 Z M555,800 L520,845"/>
<path vector-effect="non-scaling-stroke" d="M660,790 V725 Q675,705 690,725 V790"/>
<ellipse vector-effect="non-scaling-stroke" cx="668" cy="790" rx="55" ry="40"/>
<ellipse vector-effect="non-scaling-stroke" cx="668" cy="790" rx="42" ry="30"/>
<path vector-effect="non-scaling-stroke" d="M525,860 L560,840 L650,885 C640,960 620,1060 600,1120 L575,1145 L540,1135 C525,1080 520,1000 525,860 Z"/>
<path vector-effect="non-scaling-stroke" stroke-width="1.8" d="M560,965 L600,985 M555,1000 L595,1020 M548,1035 L590,1055"/>
<path vector-effect="non-scaling-stroke" d="M700,880 C690,1100 690,1300 700,1500 L705,1690 M740,880 C735,1100 735,1300 740,1500 L725,1650 M520,1150 C510,1300 505,1450 530,1690"/>
<path vector-effect="non-scaling-stroke" stroke-width="2.6" stroke-linecap="round" d="M465,1280 Q550,1320 615,1370 M465,1390 Q540,1430 600,1470 M475,1500 Q540,1530 590,1565"/><path vector-effect="non-scaling-stroke" stroke-width="0.8" stroke="#fff" d="M465,1280 Q550,1320 615,1370 M465,1390 Q540,1430 600,1470 M475,1500 Q540,1530 590,1565"/>
<path vector-effect="non-scaling-stroke" stroke-width="1.5" d="M510,1290 L525,1310 L545,1300 L560,1330"/>
</g>
<!-- o-rings -->
<ellipse cx="255.3" cy="2001.3" rx="15.9" ry="11.5" stroke-width="1"/><ellipse cx="255.3" cy="2001.3" rx="14.3" ry="10" stroke-width="1"/>
<ellipse cx="256.2" cy="2031.2" rx="17.3" ry="10.2" stroke-width="2.6"/>
<ellipse cx="256.2" cy="2031.2" rx="12" ry="6.5" stroke-width="1"/>
<path d="M238.7,2031.2 V2036 Q256,2046 273.7,2036 V2031.2" stroke-width="1.2"/>
</g>

<!-- NEXT ARROW -->
<rect x="1388.1" y="2240.9" width="18.9" height="54.8" fill="#000"/>
<rect x="1418" y="2240.9" width="31.7" height="54.8" fill="#000"/>
<polygon points="1460,2240.6 1536,2240.6 1536,2214.3 1603.4,2266.5 1536,2322.2 1536,2295.7 1460,2295.7" fill="#000"/>
</svg>
</body></html>
